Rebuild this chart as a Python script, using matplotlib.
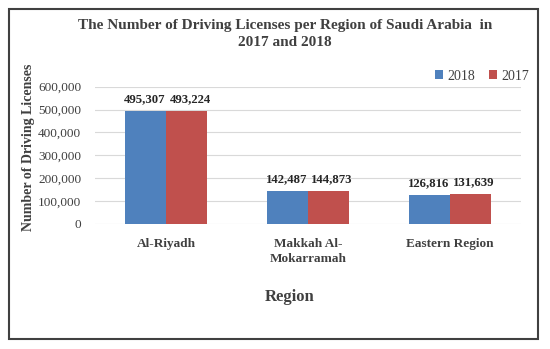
import matplotlib
matplotlib.use("Agg")
import matplotlib.pyplot as plt
import numpy as np
from matplotlib.patches import Rectangle
from matplotlib.ticker import FuncFormatter

regions = ["Al-Riyadh", "Makkah Al-\nMokarramah", "Eastern Region"]
series_names = ["2018", "2017"]
values_2018 = [495307, 142487, 126816]
values_2017 = [493224, 144873, 131639]
yticks = [0, 100000, 200000, 300000, 400000, 500000, 600000]

W, H = 550, 349
plt.rcParams['font.family'] = ['Liberation Serif', 'DejaVu Serif']
fig = plt.figure(figsize=(W/100, H/100), dpi=100)

def px(x0, y0, x1, y1):
    return [x0/W, 1 - y1/H, (x1-x0)/W, (y1-y0)/H]

ax = fig.add_axes(px(95, 86.7, 521, 224))
blue = "#4F81BD"
red = "#C0504D"
x = np.arange(len(regions))
bw = 0.29
b1 = ax.bar(x - bw/2, values_2018, bw, color=blue, label=series_names[0], zorder=3)
b2 = ax.bar(x + bw/2, values_2017, bw, color=red, label=series_names[1], zorder=3)
for bars, vals, dx in ((b1, values_2018, -0.005), (b2, values_2017, 0.025)):
    for r, v in zip(bars, vals):
        ax.text(r.get_x() + r.get_width()/2 + dx, v + 26000, f"{v:,}", ha='center', va='bottom',
                fontsize=9.2, fontweight='bold', color='#262626')

ax.set_xlim(-0.5, 2.5)
ax.set_ylim(0, 600000)
ax.set_yticks(yticks)
ax.yaxis.set_major_formatter(FuncFormatter(lambda v, p: f"{int(v):,}"))
ax.grid(axis='y', color='#D9D9D9', linewidth=0.8, zorder=0)
for s in ax.spines.values():
    s.set_visible(False)
ax.tick_params(axis='both', length=0)
ax.tick_params(axis='y', labelsize=9.5, labelcolor='#404040', pad=10)
ax.set_xticks(x)
ax.set_xticklabels(regions, fontsize=9.5, fontweight='bold', color='#404040', linespacing=1.3)
ax.tick_params(axis='x', pad=10)

fig.text(290/W, 1 - 297/H, "Region", ha='center', va='center', fontsize=12, fontweight='bold', color='#404040')
fig.text(29/W, 1 - 147/H, "Number of Driving Licenses", ha='center', va='center', rotation=90,
         fontsize=10, fontweight='bold', color='#404040')
fig.text(285/W, 1 - 34/H, "The Number of Driving Licenses per Region of Saudi Arabia  in\n2017 and 2018",
         ha='center', va='center', fontsize=11, fontweight='bold', color='#404040', linespacing=1.35)

fig.legend(handles=[b1, b2], labels=series_names, loc='center', bbox_to_anchor=(482/W, 1 - 76/H),
           ncol=2, frameon=False, fontsize=10, handlelength=0.6, handleheight=0.6,
           handletextpad=0.3, columnspacing=1.0, labelcolor='#404040')

fig.patches.append(Rectangle((9/W, 1 - 339/H), (538-9)/W, (339-9)/H, transform=fig.transFigure,
                             fill=False, edgecolor='#404040', linewidth=1.5))

fig.savefig("out.png", dpi=100, facecolor='white')
